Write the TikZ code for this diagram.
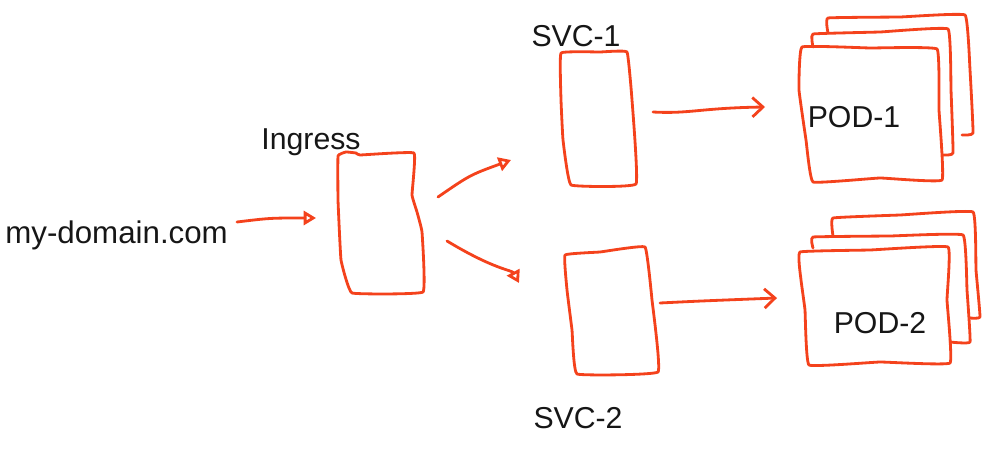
\documentclass[tikz,border=0pt]{standalone}
\usepackage{fontspec}
\setmainfont{Liberation Sans}
\usetikzlibrary{positioning,arrows.meta,calc}
\definecolor{pen}{RGB}{244,66,28}
\definecolor{ink}{RGB}{22,22,22}

\begin{document}
\begin{tikzpicture}[x=0.02cm,y=-0.02cm,
  sketch/.style={draw=pen,line width=1.6pt,line join=round,line cap=round},
  arr/.style={sketch,-{Triangle[open,length=7pt,width=8pt]}},
  barb/.style={sketch,-{Straight Barb[length=6pt,width=11pt]}},
  lbl/.style={text=ink,anchor=base,inner sep=0pt,font=\fontsize{17.2}{20}\selectfont}]

\useasboundingbox (0,0) rectangle (996,452);

% labels
\node[lbl,anchor=base west,font=\fontsize{17.8}{20}\selectfont] (dom) at (5,244) {my-domain.com};
\node[lbl] (ingl) at (311,150) {Ingress};
\node[lbl] (svcal) at (576,47) {SVC-1};
\node[lbl] (svcbl) at (578,428) {SVC-2};
\node[lbl] (poda) at (854,128) {POD-1};
\node[lbl] (podb) at (880,333) {POD-2};

% boxes
\draw[sketch] plot[smooth cycle,tension=0.15] coordinates {(338,156) (346,152) (356,153) (360,155) (414,153) (412,195) (417,212) (422,232) (423,292) (352,293) (341,260) (338,200)};
\draw[sketch] plot[smooth cycle,tension=0.15] coordinates {(561,53) (600,52) (627,52) (632,100) (636,184) (571,185) (563,140) (561,100)};
\draw[sketch] plot[smooth cycle,tension=0.15] coordinates {(565,255) (600,252) (645,247) (652,300) (658,372) (577,374) (572,330) (567,290)};

% pod stacks
\draw[sketch] plot[smooth,tension=0.15] coordinates {(828,33) (828,18) (900,17) (965,15) (970,70) (973,133) (962,135)};
\draw[sketch] plot[smooth,tension=0.15] coordinates {(813,47) (813,34) (880,32) (948,29) (951,90) (953,153) (943,155)};
\draw[sketch] plot[smooth cycle,tension=0.15] coordinates {(802,47) (870,48) (937,49) (939,110) (942,180) (880,178) (813,182) (806,140) (799,90)};

\draw[sketch] plot[smooth,tension=0.15] coordinates {(833,236) (833,218) (900,215) (973,212) (976,270) (980,317) (970,318)};
\draw[sketch] plot[smooth,tension=0.15] coordinates {(813,248) (813,237) (890,236) (963,235) (967,290) (970,342) (950,342)};
\draw[sketch] plot[smooth cycle,tension=0.15] coordinates {(800,252) (870,250) (948,247) (947,300) (950,363) (880,362) (809,365) (805,310) (801,280)};

% arrow ends
\coordinate (a0) at (237,222);
\coordinate (a1) at (316,218);
\coordinate (b0) at (438,197);
\coordinate (b1) at (511,160);
\coordinate (c0) at (447,241);
\coordinate (c1) at (519,283);
\coordinate (d0) at (653,112);
\coordinate (d1) at (765,107);
\coordinate (e0) at (660,303);
\coordinate (e1) at (777,298);

\draw[arr] (a0) .. controls (270,218) .. (a1);
\draw[arr] (b0) .. controls (470,175) .. (b1);
\draw[arr] (c0) .. controls (495,270) and (512,270) .. (c1);
\draw[barb] (d0) .. controls (690,114) and (700,108) .. (d1);
\draw[barb] (e0) .. controls (700,301) .. (e1);

\end{tikzpicture}
\end{document}
